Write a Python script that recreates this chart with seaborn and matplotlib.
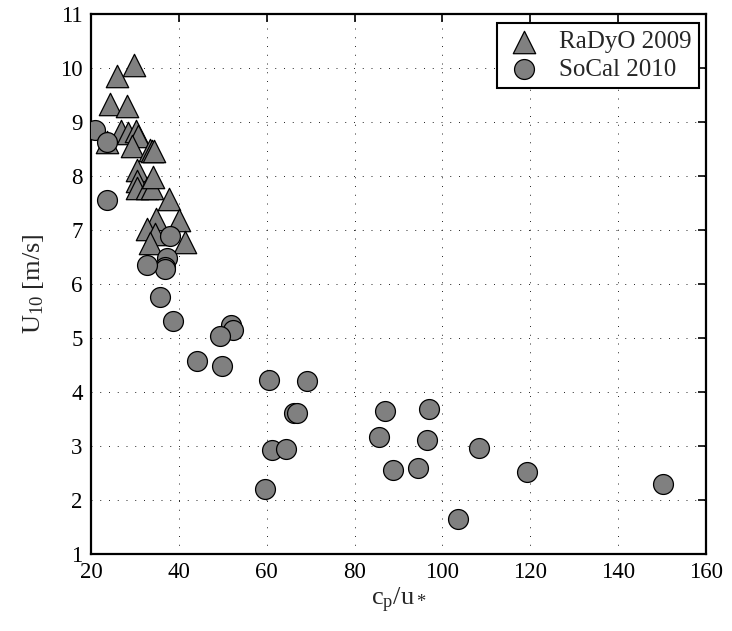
import matplotlib
matplotlib.use("Agg")
import matplotlib.pyplot as plt
import numpy as np
import pandas as pd
import seaborn as sns

# RaDyO 2009 campaign: wave age vs 10 m wind speed
radyo_cp_ustar = [29.8, 26.0, 24.3, 28.1, 23.6, 26.8, 28.5, 30.2, 30.8, 29.3,
                  33.4, 34.0, 34.4, 30.4, 30.4, 30.4, 32.7, 33.8, 34.2, 37.7,
                  34.7, 40.1, 32.7, 34.6, 33.4, 41.3]
radyo_u10 = [10.05, 9.86, 9.33, 9.30, 8.63, 8.84, 8.80, 8.84, 8.75, 8.56,
             8.48, 8.47, 8.46, 8.12, 7.91, 7.78, 7.78, 7.78, 7.99, 7.58,
             7.21, 7.18, 7.02, 6.93, 6.76, 6.77]

# SoCal 2010 campaign
socal_cp_ustar = [20.8, 23.7, 23.6, 37.9, 37.2, 36.8, 36.9, 32.7, 35.7, 38.6,
                  51.9, 52.4, 49.4, 44.1, 49.8, 60.6, 69.1, 66.1, 67.0, 61.3,
                  64.5, 59.5, 86.9, 97.0, 85.6, 96.6, 108.4, 88.7, 94.5, 119.3,
                  150.1, 103.5]
socal_u10 = [8.86, 8.63, 7.56, 6.89, 6.48, 6.32, 6.28, 6.36, 5.76, 5.31,
             5.24, 5.15, 5.04, 4.57, 4.48, 4.22, 4.21, 3.62, 3.61, 2.92,
             2.95, 2.21, 3.65, 3.68, 3.17, 3.11, 2.97, 2.56, 2.59, 2.51,
             2.29, 1.65]

x_ticks = [20, 40, 60, 80, 100, 120, 140, 160]
y_ticks = [1, 2, 3, 4, 5, 6, 7, 8, 9, 10, 11]

sns.set_style("white")
plt.rcParams["font.family"] = ["Liberation Serif", "DejaVu Serif"]
plt.rcParams["mathtext.fontset"] = "custom"
plt.rcParams["mathtext.rm"] = "Liberation Serif"
plt.rcParams["mathtext.it"] = "Liberation Serif"
plt.rcParams["mathtext.default"] = "rm"

radyo = pd.DataFrame({"cp_ustar": radyo_cp_ustar, "u10": radyo_u10})
socal = pd.DataFrame({"cp_ustar": socal_cp_ustar, "u10": socal_u10})

fig = plt.figure(figsize=(7.32, 6.31), dpi=100)
ax = fig.add_axes([0.1243, 0.1220, 0.8402, 0.8558])

fill = "#808080"
sns.scatterplot(data=radyo, x="cp_ustar", y="u10", marker="^", s=260,
                color=fill, edgecolor="black", linewidth=0.9,
                label="RaDyO 2009", ax=ax, zorder=3)
sns.scatterplot(data=socal, x="cp_ustar", y="u10", marker="o", s=205,
                color=fill, edgecolor="black", linewidth=0.9,
                label="SoCal 2010", ax=ax, zorder=4)

ax.set_xlim(20, 160)
ax.set_ylim(1, 11)
ax.set_xticks(x_ticks)
ax.set_yticks(y_ticks)
ax.set_xticklabels([str(v) for v in x_ticks])
ax.set_yticklabels([str(v) for v in y_ticks])

ax.grid(True, color="#222222", linestyle=(0, (1, 8)), linewidth=0.7)
ax.set_axisbelow(True)
for sp in ax.spines.values():
    sp.set_visible(True)
    sp.set_color("black")
    sp.set_linewidth(1.6)

ax.tick_params(axis="both", which="both", direction="in", length=6, width=1.2,
               top=True, right=True, labelsize=16.5, pad=6, colors="black")

ax.set_xlabel(r"$\mathrm{c_p/u_*}$", fontsize=19, labelpad=2)
ax.set_ylabel(r"$\mathrm{U_{10}}$ [m/s]", fontsize=19, labelpad=10)

leg = ax.legend(loc="upper right", fontsize=18, frameon=True, fancybox=False,
                edgecolor="black", framealpha=1, borderpad=0.3,
                handletextpad=0.6, labelspacing=0.2, handlelength=1.6,
                borderaxespad=0, bbox_to_anchor=(0.9886, 0.983))
leg.get_frame().set_linewidth(1.5)

fig.savefig("out.png", dpi=100)
